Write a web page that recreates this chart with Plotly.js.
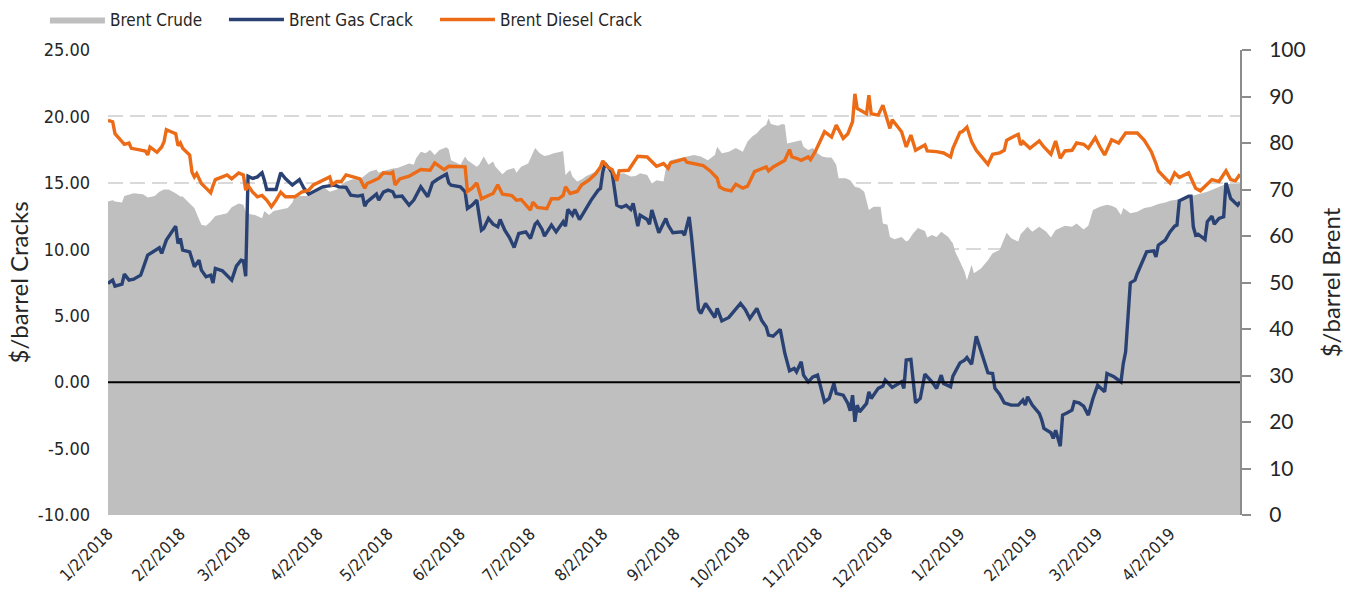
<!DOCTYPE html>
<html>
<head>
<meta charset="utf-8">
<script src="https://cdn.plot.ly/plotly-3.0.1.min.js"></script>
<style>html,body{margin:0;padding:0;background:#fff;}#chart{width:1359px;height:594px;}</style>
</head>
<body>
<div id="chart"></div>
<script>
// ---------- DATA ----------
const crudeDates = ["2018-01-02","2018-01-04","2018-01-05","2018-01-08","2018-01-09","2018-01-13","2018-01-17","2018-01-19","2018-01-22","2018-01-24","2018-01-26","2018-01-28","2018-01-31","2018-02-02","2018-02-03","2018-02-05","2018-02-06","2018-02-08","2018-02-10","2018-02-11","2018-02-13","2018-02-15","2018-02-17","2018-02-19","2018-02-22","2018-02-24","2018-02-27","2018-03-01","2018-03-02","2018-03-04","2018-03-06","2018-03-09","2018-03-10","2018-03-12","2018-03-14","2018-03-17","2018-03-20","2018-03-22","2018-03-23","2018-03-25","2018-03-28","2018-03-31","2018-04-03","2018-04-05","2018-04-07","2018-04-10","2018-04-12","2018-04-14","2018-04-17","2018-04-20","2018-04-22","2018-04-24","2018-04-27","2018-04-28","2018-04-30","2018-05-03","2018-05-04","2018-05-06","2018-05-09","2018-05-11","2018-05-13","2018-05-14","2018-05-16","2018-05-18","2018-05-20","2018-05-22","2018-05-24","2018-05-27","2018-05-28","2018-05-29","2018-05-31","2018-06-02","2018-06-04","2018-06-05","2018-06-07","2018-06-09","2018-06-10","2018-06-12","2018-06-14","2018-06-16","2018-06-17","2018-06-20","2018-06-22","2018-06-25","2018-06-26","2018-06-28","2018-07-01","2018-07-03","2018-07-04","2018-07-06","2018-07-08","2018-07-10","2018-07-12","2018-07-15","2018-07-16","2018-07-17","2018-07-19","2018-07-20","2018-07-22","2018-07-24","2018-07-26","2018-07-29","2018-07-31","2018-08-02","2018-08-04","2018-08-06","2018-08-09","2018-08-11","2018-08-14","2018-08-16","2018-08-18","2018-08-21","2018-08-23","2018-08-25","2018-08-28","2018-08-29","2018-08-31","2018-09-04","2018-09-10","2018-09-13","2018-09-16","2018-09-19","2018-09-20","2018-09-22","2018-09-25","2018-09-28","2018-10-01","2018-10-03","2018-10-05","2018-10-07","2018-10-09","2018-10-11","2018-10-12","2018-10-13","2018-10-16","2018-10-18","2018-10-19","2018-10-20","2018-10-23","2018-10-26","2018-10-27","2018-10-29","2018-10-31","2018-11-02","2018-11-04","2018-11-06","2018-11-08","2018-11-10","2018-11-11","2018-11-14","2018-11-16","2018-11-18","2018-11-20","2018-11-22","2018-11-24","2018-11-26","2018-11-29","2018-11-30","2018-12-02","2018-12-03","2018-12-05","2018-12-08","2018-12-10","2018-12-11","2018-12-13","2018-12-15","2018-12-18","2018-12-19","2018-12-21","2018-12-23","2018-12-25","2018-12-28","2018-12-30","2018-12-31","2019-01-02","2019-01-04","2019-01-05","2019-01-07","2019-01-08","2019-01-11","2019-01-14","2019-01-16","2019-01-19","2019-01-22","2019-01-24","2019-01-27","2019-01-28","2019-01-31","2019-02-02","2019-02-05","2019-02-08","2019-02-10","2019-02-12","2019-02-16","2019-02-19","2019-02-21","2019-02-24","2019-02-26","2019-02-28","2019-03-03","2019-03-06","2019-03-08","2019-03-10","2019-03-12","2019-03-13","2019-03-16","2019-03-19","2019-03-22","2019-03-25","2019-03-28","2019-03-31","2019-04-02","2019-04-06","2019-04-10","2019-04-14","2019-04-18","2019-04-23","2019-04-26","2019-04-30","2019-05-02"];
const crudeValues = [67.4,67.7,67.4,67.2,68.6,69.2,69.0,68.3,68.6,69.5,70.0,70.0,69.2,68.5,68.5,67.4,67.0,66.0,63.8,62.4,62.2,63.1,64.3,64.5,64.9,66.2,67.0,66.7,65.2,64.7,64.5,63.8,65.4,64.5,65.4,65.7,66.0,67.2,68.5,68.6,68.6,69.7,70.3,70.3,69.5,70.0,71.0,71.7,72.2,72.2,73.1,73.8,74.3,73.6,74.0,74.5,74.5,74.6,75.1,75.6,75.3,76.7,78.1,77.8,78.5,77.4,78.5,79.1,78.6,76.3,75.8,75.3,77.1,76.3,75.6,74.9,75.3,77.1,75.3,76.0,74.9,73.3,74.2,74.6,73.6,74.9,75.6,77.8,78.9,77.8,77.2,77.4,77.8,78.1,78.3,73.1,74.2,72.8,71.7,72.2,72.9,73.6,74.3,74.8,74.2,73.1,73.3,73.5,72.8,72.9,73.5,73.1,71.3,72.0,71.7,74.5,76.3,76.7,77.4,77.1,76.3,77.4,79.2,77.8,78.1,78.9,78.1,80.3,81.4,82.1,83.2,83.9,85.3,84.1,83.7,84.1,83.9,79.9,80.3,80.6,79.2,78.5,78.9,77.8,77.1,76.9,76.9,75.3,72.4,72.4,72.0,70.6,70.3,69.5,65.6,66.3,66.3,62.7,62.4,59.8,59.3,59.8,58.8,59.1,60.6,61.7,61.1,59.7,60.2,59.8,60.9,59.8,58.4,56.6,54.5,52.3,50.5,53.8,52.0,53.0,54.8,56.3,57.0,60.7,59.5,58.8,60.4,62.0,60.9,62.0,60.9,59.7,61.3,62.2,62.0,62.7,61.4,62.2,65.6,66.3,66.7,66.5,66.0,64.5,66.0,64.9,65.2,66.0,66.3,66.9,67.2,67.6,67.9,68.5,69.0,69.5,70.6,71.2,71.2,71.3];

const gasDates = ["2018-01-02","2018-01-04","2018-01-05","2018-01-08","2018-01-09","2018-01-11","2018-01-13","2018-01-16","2018-01-19","2018-01-21","2018-01-24","2018-01-25","2018-01-27","2018-01-31","2018-02-01","2018-02-02","2018-02-03","2018-02-06","2018-02-08","2018-02-10","2018-02-11","2018-02-13","2018-02-15","2018-02-16","2018-02-17","2018-02-20","2018-02-22","2018-02-24","2018-02-26","2018-02-28","2018-03-01","2018-03-02","2018-03-03","2018-03-05","2018-03-07","2018-03-09","2018-03-10","2018-03-11","2018-03-15","2018-03-17","2018-03-19","2018-03-22","2018-03-25","2018-03-27","2018-03-29","2018-03-31","2018-04-02","2018-04-04","2018-04-06","2018-04-09","2018-04-11","2018-04-14","2018-04-16","2018-04-19","2018-04-21","2018-04-22","2018-04-23","2018-04-25","2018-04-27","2018-04-28","2018-04-30","2018-05-02","2018-05-04","2018-05-05","2018-05-08","2018-05-11","2018-05-13","2018-05-16","2018-05-19","2018-05-21","2018-05-23","2018-05-27","2018-05-28","2018-05-29","2018-06-02","2018-06-04","2018-06-05","2018-06-07","2018-06-09","2018-06-11","2018-06-12","2018-06-14","2018-06-16","2018-06-18","2018-06-19","2018-06-21","2018-06-23","2018-06-25","2018-06-27","2018-06-30","2018-07-02","2018-07-04","2018-07-05","2018-07-07","2018-07-08","2018-07-11","2018-07-13","2018-07-16","2018-07-17","2018-07-18","2018-07-20","2018-07-21","2018-07-23","2018-07-25","2018-07-28","2018-07-31","2018-08-01","2018-08-02","2018-08-03","2018-08-05","2018-08-06","2018-08-08","2018-08-10","2018-08-12","2018-08-14","2018-08-15","2018-08-17","2018-08-18","2018-08-21","2018-08-22","2018-08-23","2018-08-26","2018-08-29","2018-08-30","2018-09-01","2018-09-05","2018-09-06","2018-09-08","2018-09-09","2018-09-12","2018-09-13","2018-09-15","2018-09-18","2018-09-19","2018-09-20","2018-09-22","2018-09-25","2018-09-30","2018-10-02","2018-10-04","2018-10-07","2018-10-09","2018-10-11","2018-10-12","2018-10-14","2018-10-17","2018-10-19","2018-10-21","2018-10-23","2018-10-24","2018-10-26","2018-10-27","2018-10-29","2018-10-31","2018-11-02","2018-11-05","2018-11-07","2018-11-09","2018-11-10","2018-11-13","2018-11-15","2018-11-16","2018-11-17","2018-11-18","2018-11-19","2018-11-20","2018-11-23","2018-11-24","2018-11-25","2018-11-28","2018-11-30","2018-12-01","2018-12-04","2018-12-08","2018-12-09","2018-12-10","2018-12-12","2018-12-14","2018-12-16","2018-12-18","2018-12-21","2018-12-23","2018-12-25","2018-12-26","2018-12-29","2018-12-30","2019-01-02","2019-01-04","2019-01-05","2019-01-07","2019-01-09","2019-01-11","2019-01-14","2019-01-16","2019-01-17","2019-01-19","2019-01-21","2019-01-24","2019-01-27","2019-01-29","2019-01-30","2019-01-31","2019-02-02","2019-02-05","2019-02-06","2019-02-07","2019-02-10","2019-02-11","2019-02-12","2019-02-14","2019-02-15","2019-02-17","2019-02-19","2019-02-20","2019-02-22","2019-02-24","2019-02-26","2019-02-28","2019-03-02","2019-03-05","2019-03-06","2019-03-09","2019-03-12","2019-03-13","2019-03-14","2019-03-16","2019-03-18","2019-03-19","2019-03-21","2019-03-23","2019-03-26","2019-03-27","2019-03-28","2019-03-31","2019-04-02","2019-04-04","2019-04-05","2019-04-06","2019-04-10","2019-04-11","2019-04-12","2019-04-13","2019-04-14","2019-04-17","2019-04-18","2019-04-20","2019-04-21","2019-04-23","2019-04-25","2019-04-26","2019-04-28","2019-05-01","2019-05-02"];
const gasValues = [7.43,7.68,7.23,7.38,8.13,7.68,7.75,8.05,9.56,9.81,10.11,9.69,10.69,11.74,10.44,10.82,9.94,9.81,8.68,9.18,8.43,7.93,8.05,7.47,8.56,8.38,8.05,7.68,8.73,9.18,9.13,7.98,15.5,15.33,15.45,15.76,15.2,14.5,14.5,15.76,15.33,14.83,15.25,14.58,14.15,14.33,14.58,14.7,14.75,14.83,14.7,14.66,14.07,14.0,14.07,13.25,13.57,13.82,14.15,13.7,14.3,14.45,14.33,13.95,14.0,13.32,13.7,14.7,13.95,15.0,15.25,15.66,15.0,14.83,14.7,14.33,13.07,13.32,13.7,11.44,11.57,12.32,11.89,11.69,12.24,11.44,10.89,10.14,11.19,11.31,10.82,11.89,12.07,11.49,10.99,11.82,11.31,12.07,11.74,13.0,12.57,13.0,12.24,12.82,13.7,14.45,14.58,15.83,16.46,16.0,15.76,13.32,13.15,13.32,13.0,13.45,11.74,12.57,12.24,11.89,12.95,11.24,12.32,11.82,11.24,11.31,11.06,12.44,10.94,5.47,5.17,5.92,5.17,4.87,5.55,4.61,4.87,5.92,5.47,4.79,5.55,4.67,4.16,3.54,3.46,3.97,2.16,0.85,1.03,0.78,1.53,0.53,0.02,0.4,0.53,-1.48,-1.23,-0.1,-0.85,-0.98,-1.6,-2.16,-0.98,-2.99,-1.73,-2.24,-1.6,-0.73,-1.23,-0.47,-0.3,0.15,-0.4,0.02,-0.47,1.66,1.71,-1.56,-1.23,0.6,0.02,-0.47,0.53,-0.1,-0.35,0.45,1.45,1.66,1.86,1.35,3.46,2.41,0.7,0.65,-0.47,-0.9,-1.56,-1.73,-1.73,-1.35,-1.73,-1.1,-1.73,-2.36,-2.81,-3.49,-3.81,-4.24,-3.61,-4.82,-2.48,-2.31,-2.11,-1.48,-1.56,-1.81,-2.48,-1.23,-0.23,-0.73,0.65,0.4,0.02,1.41,2.28,7.47,7.68,8.18,8.98,9.81,9.88,9.43,10.31,10.69,11.31,11.74,11.82,13.65,14.0,14.0,11.69,11.06,11.14,10.74,12.07,12.49,11.89,12.32,12.44,15.0,13.82,13.32,13.57];

const dieselDates = ["2018-01-02","2018-01-04","2018-01-05","2018-01-07","2018-01-09","2018-01-11","2018-01-12","2018-01-15","2018-01-18","2018-01-19","2018-01-20","2018-01-23","2018-01-25","2018-01-26","2018-01-27","2018-01-29","2018-01-31","2018-02-01","2018-02-02","2018-02-03","2018-02-05","2018-02-06","2018-02-07","2018-02-08","2018-02-09","2018-02-11","2018-02-13","2018-02-15","2018-02-16","2018-02-17","2018-02-20","2018-02-22","2018-02-24","2018-02-27","2018-03-01","2018-03-02","2018-03-03","2018-03-05","2018-03-07","2018-03-09","2018-03-11","2018-03-13","2018-03-15","2018-03-17","2018-03-19","2018-03-23","2018-03-26","2018-03-29","2018-03-31","2018-04-03","2018-04-05","2018-04-07","2018-04-08","2018-04-10","2018-04-12","2018-04-14","2018-04-17","2018-04-20","2018-04-22","2018-04-23","2018-04-25","2018-04-28","2018-04-30","2018-05-03","2018-05-04","2018-05-05","2018-05-07","2018-05-11","2018-05-16","2018-05-20","2018-05-22","2018-05-24","2018-05-26","2018-05-28","2018-06-04","2018-06-05","2018-06-07","2018-06-09","2018-06-11","2018-06-14","2018-06-16","2018-06-18","2018-06-20","2018-06-24","2018-06-26","2018-06-28","2018-06-30","2018-07-02","2018-07-03","2018-07-05","2018-07-09","2018-07-11","2018-07-14","2018-07-16","2018-07-17","2018-07-19","2018-07-22","2018-07-24","2018-07-27","2018-07-30","2018-08-01","2018-08-02","2018-08-04","2018-08-06","2018-08-08","2018-08-09","2018-08-13","2018-08-15","2018-08-17","2018-08-21","2018-08-23","2018-08-25","2018-08-28","2018-08-30","2018-08-31","2018-09-06","2018-09-07","2018-09-10","2018-09-14","2018-09-17","2018-09-20","2018-09-21","2018-09-23","2018-09-26","2018-09-28","2018-10-01","2018-10-03","2018-10-06","2018-10-08","2018-10-11","2018-10-12","2018-10-14","2018-10-17","2018-10-19","2018-10-21","2018-10-22","2018-10-24","2018-10-26","2018-10-29","2018-10-30","2018-11-01","2018-11-05","2018-11-08","2018-11-10","2018-11-13","2018-11-15","2018-11-17","2018-11-18","2018-11-19","2018-11-23","2018-11-24","2018-11-25","2018-11-28","2018-11-30","2018-12-03","2018-12-04","2018-12-08","2018-12-10","2018-12-12","2018-12-14","2018-12-18","2018-12-19","2018-12-23","2018-12-26","2018-12-29","2018-12-30","2019-01-02","2019-01-03","2019-01-05","2019-01-07","2019-01-09","2019-01-12","2019-01-14","2019-01-16","2019-01-19","2019-01-21","2019-01-22","2019-01-24","2019-01-27","2019-01-28","2019-01-29","2019-02-01","2019-02-05","2019-02-07","2019-02-10","2019-02-12","2019-02-14","2019-02-16","2019-02-19","2019-02-21","2019-02-24","2019-02-26","2019-03-01","2019-03-03","2019-03-05","2019-03-08","2019-03-11","2019-03-14","2019-03-19","2019-03-22","2019-03-25","2019-03-27","2019-03-28","2019-03-31","2019-04-02","2019-04-04","2019-04-06","2019-04-10","2019-04-13","2019-04-15","2019-04-18","2019-04-20","2019-04-23","2019-04-26","2019-04-28","2019-04-30","2019-05-02"];
const dieselValues = [19.7,19.6,18.7,18.3,17.9,18.0,17.6,17.5,17.4,17.1,17.7,17.3,17.7,18.1,19.0,18.85,18.7,17.8,18.0,17.6,17.3,17.1,15.8,15.45,15.7,14.95,14.6,14.25,14.8,15.25,15.45,15.6,15.3,15.75,15.6,14.45,14.8,14.3,13.95,14.05,13.7,13.2,13.7,14.3,13.95,13.95,14.3,14.45,14.85,15.1,15.25,15.45,14.85,15.1,15.1,15.6,15.45,15.3,14.6,14.95,15.1,15.35,15.75,15.7,15.8,14.85,15.3,15.5,16.0,15.95,16.5,16.25,16.0,16.25,16.2,14.35,14.6,15.0,13.8,14.05,14.2,14.85,14.15,14.05,13.7,13.75,13.3,12.95,13.55,13.15,13.05,13.8,13.8,14.05,14.7,14.2,14.35,14.85,15.2,15.7,16.2,16.65,16.2,16.0,15.15,15.9,15.95,16.45,17.0,16.95,16.6,16.25,16.45,16.1,16.5,16.8,16.55,16.45,16.3,15.9,15.35,14.7,14.5,14.4,14.9,14.6,14.75,15.85,16.0,16.2,15.9,16.2,16.5,16.7,17.5,16.95,16.85,16.7,16.95,16.75,17.35,18.85,18.45,19.35,18.35,18.7,19.6,21.7,20.6,20.2,21.6,20.2,20.1,20.85,19.1,19.75,18.85,17.7,18.6,17.45,17.85,17.4,17.35,17.25,16.95,17.6,18.8,18.85,19.2,18.1,17.45,16.85,16.4,17.15,17.25,17.45,18.2,18.4,18.65,17.85,18.1,17.6,18.15,17.7,17.15,18.15,16.85,17.4,17.45,18.0,17.9,17.6,18.4,17.7,17.1,18.25,18.0,18.75,18.75,18.2,17.35,16.45,15.9,15.35,15.0,15.75,15.4,15.75,14.6,14.4,14.9,15.25,15.1,15.9,15.25,15.15,15.65];

const tickDates = ["2018-01-02","2018-02-02","2018-03-02","2018-04-02","2018-05-02","2018-06-02","2018-07-02","2018-08-02","2018-09-02","2018-10-02","2018-11-02","2018-12-02","2019-01-02","2019-02-02","2019-03-02","2019-04-02"];
const tickLabels = ["1/2/2018","2/2/2018","3/2/2018","4/2/2018","5/2/2018","6/2/2018","7/2/2018","8/2/2018","9/2/2018","10/2/2018","11/2/2018","12/2/2018","1/2/2019","2/2/2019","3/2/2019","4/2/2019"];
const crackTicks = [-10,-5,0,5,10,15,20,25];
const crackTickLabels = ["-10.00","-5.00","0.00","5.00","10.00","15.00","20.00","25.00"];
const seriesNames = ["Brent Crude","Brent Gas Crack","Brent Diesel Crack"];

// ---------- STYLE ----------
const NARROW = '"DejaVu Sans Condensed","Liberation Sans Narrow",sans-serif';
const WIDE = 'Lato,"Open Sans",sans-serif';
const TXT = '#262626';

const traces = [
  {x: crudeDates, y: crudeValues, name: seriesNames[0], type:'scatter', mode:'lines',
   fill:'tozeroy', fillcolor:'#bfbfbf', line:{width:0, color:'#bfbfbf'}, yaxis:'y',
   hoverinfo:'skip', legendwidth:109},
  {x: gasDates, y: gasValues, name: seriesNames[1], type:'scatter', mode:'lines',
   line:{color:'#2a4273', width:3.4}, yaxis:'y2', legendwidth:141},
  {x: dieselDates, y: dieselValues, name: seriesNames[2], type:'scatter', mode:'lines',
   line:{color:'#ec6b17', width:3.4}, yaxis:'y2'}
];

const layout = {
  width:1359, height:594,
  margin:{l:108, r:119, t:50, b:79, pad:0, autoexpand:false},
  paper_bgcolor:'#ffffff', plot_bgcolor:'#ffffff',
  showlegend:true,
  legend:{orientation:'h', x:-0.0557, xanchor:'left', y:1.0645, yanchor:'middle',
          font:{family:NARROW, size:17, color:TXT}, itemwidth:55, traceorder:'normal',
          bgcolor:'rgba(0,0,0,0)'},
  xaxis:{type:'date', range:['2018-01-02','2019-05-02'], tickmode:'array', tickvals:tickDates,
         ticktext:tickLabels, tickangle:-45, showgrid:false, zeroline:false, showline:false,
         ticks:'', ticklabelstandoff:5, tickfont:{family:NARROW, size:16.5, color:TXT}, fixedrange:true},
  yaxis:{side:'right', range:[0,100], tick0:0, dtick:10, showgrid:false, zeroline:false,
         showline:true, linecolor:'#8c8c8c', linewidth:2, ticks:'outside', ticklen:9, tickwidth:2,
         tickcolor:'#8c8c8c', ticklabelstandoff:14,
         tickfont:{family:WIDE, size:21, color:TXT},
         title:{text:'$/barrel Brent', font:{family:WIDE, size:24, color:TXT}, standoff:18}},
  yaxis2:{overlaying:'y', side:'left', range:[-10,25], tickmode:'array', tickvals:crackTicks,
          ticktext:crackTickLabels, showgrid:true, gridcolor:'#d9d9d9', gridwidth:2, griddash:'15px,7px',
          zeroline:false, showline:false, ticks:'', ticklabelstandoff:17,
          tickfont:{family:NARROW, size:18, color:TXT},
          title:{text:'$/barrel Cracks', font:{family:WIDE, size:24, color:TXT}, standoff:2}},
  shapes:[{type:'line', xref:'paper', x0:0, x1:1, yref:'y2', y0:0, y1:0, layer:'above',
           line:{color:'#000000', width:2}}]
};

Plotly.newPlot('chart', traces, layout, {staticPlot:true, displayModeBar:false});
</script>
</body>
</html>
